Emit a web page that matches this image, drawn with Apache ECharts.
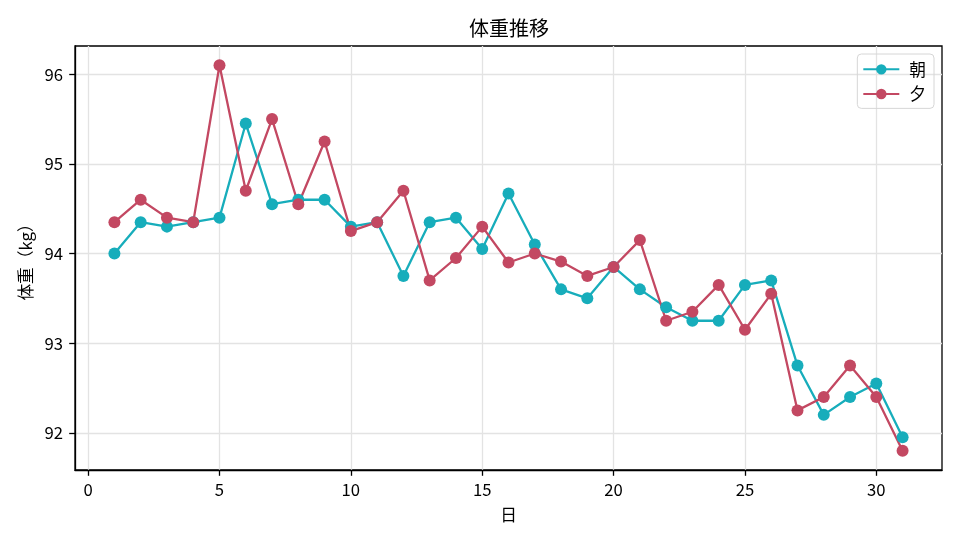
<!DOCTYPE html>
<html>
<head>
<meta charset="utf-8">
<script src="https://cdn.jsdelivr.net/npm/echarts@6/dist/echarts.min.js"></script>
<style>
  html, body { margin: 0; padding: 0; background: #fff; }
  #chart { width: 960px; height: 540px; }
</style>
</head>
<body>
<div id="chart"></div>
<script>
// days of the month
const days = [];
for (let d = 1; d <= 31; d++) days.push(d);

// morning / evening weight (kg)
const morning = [94.0, 94.35, 94.3, 94.35, 94.4, 95.45, 94.55, 94.6, 94.6, 94.3,
                 94.35, 93.75, 94.35, 94.4, 94.05, 94.67, 94.1, 93.6, 93.5, 93.85,
                 93.6, 93.4, 93.25, 93.25, 93.65, 93.7, 92.75, 92.2, 92.4, 92.55, 91.95];
const evening = [94.35, 94.6, 94.4, 94.35, 96.1, 94.7, 95.5, 94.55, 95.25, 94.25,
                 94.35, 94.7, 93.7, 93.95, 94.3, 93.9, 94.0, 93.91, 93.75, 93.85,
                 94.15, 93.25, 93.35, 93.65, 93.15, 93.55, 92.25, 92.4, 92.75, 92.4, 91.8];

const xTicks = [0, 5, 10, 15, 20, 25, 30];
const yTicks = [92, 93, 94, 95, 96];

const FONT = '"Noto Sans CJK JP", "Noto Sans", sans-serif';
const TEAL = '#17adbb';
const RED = '#c34862';

function pairs(vals) {
    return vals.map((v, i) => [days[i], v]);
}

const option = {
    animation: false,
    textStyle: { fontFamily: FONT, color: '#000' },
    title: {
        text: '体重推移',
        left: 504,
        textAlign: 'center',
        top: 13,
        textStyle: { fontFamily: FONT, fontSize: 20, fontWeight: 'normal', color: '#000' }
    },
    legend: {
        right: 26,
        top: 54,
        orient: 'vertical',
        itemWidth: 36,
        itemHeight: 13,
        itemGap: 8,
        padding: [7, 8, 6, 5],
        borderColor: '#d6d6d6',
        borderWidth: 1,
        borderRadius: 4,
        textStyle: { fontFamily: FONT, fontSize: 16.7, color: '#000', padding: [0, 0, 0, 5] },
        data: ['朝', '夕']
    },
    grid: {
        left: 75, right: 18, top: 46, bottom: 70,
        show: true, borderColor: '#000', borderWidth: 1.3
    },
    xAxis: {
        type: 'value',
        min: -0.5, max: 32.5,
        name: '日',
        nameLocation: 'middle',
        nameGap: 36,
        nameTextStyle: { fontFamily: FONT, fontSize: 16.7, color: '#000' },
        axisLine: { show: true, onZero: false, lineStyle: { color: '#000', width: 1.3 } },
        axisTick: { show: true, customValues: xTicks, length: 5.8, lineStyle: { color: '#000', width: 1.3 } },
        axisLabel: { customValues: xTicks, fontFamily: FONT, fontSize: 16.7, color: '#000', margin: 11 },
        splitLine: { show: true, lineStyle: { color: '#e3e3e3', width: 1.3 } }
    },
    yAxis: {
        type: 'value',
        min: 91.585, max: 96.315,
        name: '体重（kg）',
        nameLocation: 'middle',
        nameGap: 38,
        nameTextStyle: { fontFamily: FONT, fontSize: 16.7, color: '#000' },
        axisLine: { show: true, onZero: false, lineStyle: { color: '#000', width: 1.3 } },
        axisTick: { show: true, customValues: yTicks, length: 5.8, lineStyle: { color: '#000', width: 1.3 } },
        axisLabel: { customValues: yTicks, fontFamily: FONT, fontSize: 16.7, color: '#000', margin: 12,
                     formatter: v => String(Math.round(v)) },
        splitLine: { show: true, lineStyle: { color: '#e3e3e3', width: 1.3 } }
    },
    series: [
        {
            name: '朝',
            type: 'line',
            data: pairs(morning),
            symbol: 'circle',
            symbolSize: 12,
            color: TEAL,
            lineStyle: { width: 2.3, color: TEAL },
            itemStyle: { color: TEAL }
        },
        {
            name: '夕',
            type: 'line',
            data: pairs(evening),
            symbol: 'circle',
            symbolSize: 12,
            color: RED,
            lineStyle: { width: 2.3, color: RED },
            itemStyle: { color: RED }
        }
    ]
};

const chart = echarts.init(document.getElementById('chart'));
chart.setOption(option);
</script>
</body>
</html>
